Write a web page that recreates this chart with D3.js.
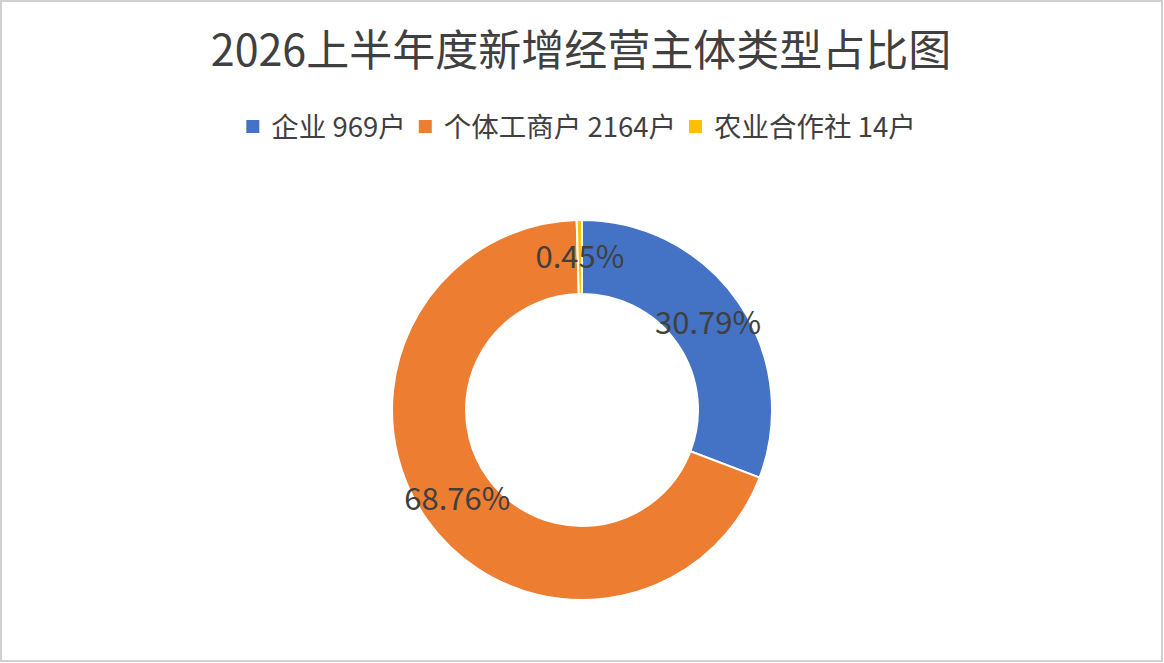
<!DOCTYPE html>
<html><head><meta charset="utf-8">
<script src="https://cdn.jsdelivr.net/npm/d3@7/dist/d3.min.js"></script>
<style>html,body{margin:0;padding:0;background:#fff;}svg{display:block;}</style>
</head><body>
<script>
const categories = ["企业", "个体工商户", "农业合作社"];
const values = [969, 2164, 14];
const pctLabels = ["30.79%", "68.76%", "0.45%"];
const unit = "户";
const colors = ["#4472C4", "#ED7D31", "#FFC000"];
const title = "2026上半年度新增经营主体类型占比图";

const W = 1164, H = 663;
const font = "'Noto Sans CJK SC', 'Noto Sans', sans-serif";
const textColor = "#404040";
const svg = d3.select("body").append("svg").attr("width", W).attr("height", H);
svg.append("rect").attr("x", 1).attr("y", 1).attr("width", W - 3).attr("height", H - 3)
  .attr("fill", "#fff").attr("stroke", "#d0d0d0").attr("stroke-width", 2);

svg.append("text").attr("x", 581).attr("y", 66).attr("text-anchor", "middle")
  .attr("font-family", font).attr("font-size", 43).attr("fill", textColor).text(title);

// legend
const lg = svg.append("g");
let x = 0;
categories.forEach((c, i) => {
  const g = lg.append("g").attr("transform", `translate(${x},0)`);
  g.append("rect").attr("x", 0).attr("y", -7).attr("width", 13).attr("height", 13).attr("fill", colors[i]);
  const t = g.append("text").attr("x", 25).attr("y", 10).attr("font-family", font)
    .attr("font-size", 27.5).attr("fill", textColor).text(`${c} ${values[i]}${unit}`);
  x += 25 + t.node().getComputedTextLength() + 13;
});
const lw = x - 13;
lg.attr("transform", `translate(${581 - lw / 2},127)`);

// donut
const cx = 582, cy = 410, rOut = 190, rIn = 116;
const pie = d3.pie().sort(null).value(d => d)(values);
const arc = d3.arc().innerRadius(rIn).outerRadius(rOut);
const g = svg.append("g").attr("transform", `translate(${cx},${cy})`);
g.selectAll("path").data(pie).join("path").attr("d", arc)
  .attr("fill", (d, i) => colors[i]).attr("stroke", "#fff").attr("stroke-width", 2);
const lab = d3.arc().innerRadius((rIn + rOut) / 2).outerRadius((rIn + rOut) / 2);
g.selectAll("text").data(pie).join("text")
  .attr("transform", d => `translate(${lab.centroid(d)})`)
  .attr("text-anchor", "middle").attr("dy", "0.36em")
  .attr("font-family", font).attr("font-size", 31).attr("fill", textColor)
  .text((d, i) => pctLabels[i]);
</script>
</body></html>
